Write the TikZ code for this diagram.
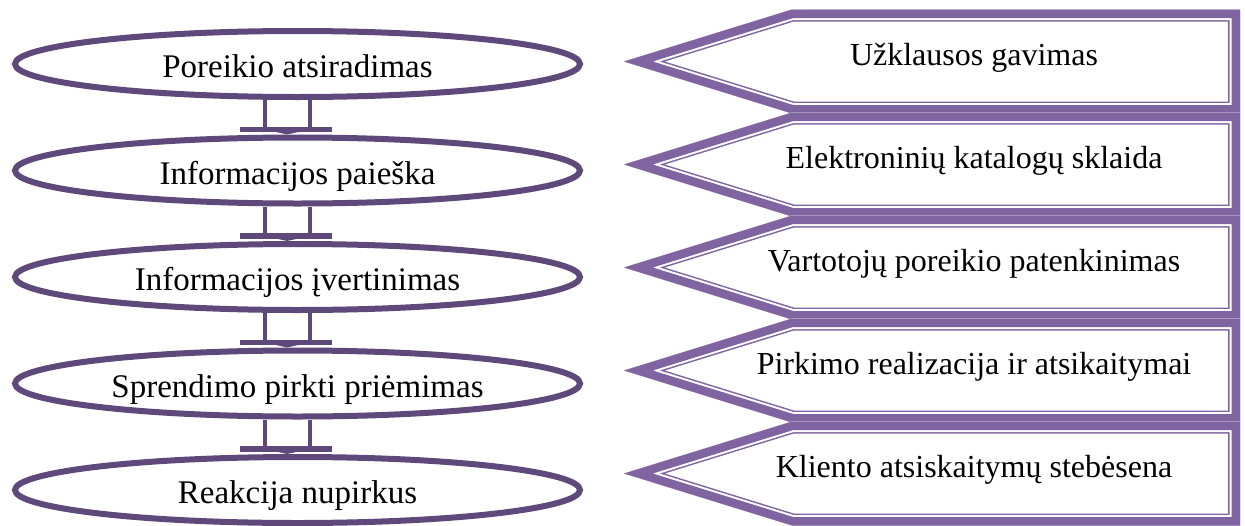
\documentclass[tikz,border=0pt]{standalone}
\usepackage{fontspec}
\setmainfont{Liberation Serif}
\usetikzlibrary{shapes.geometric,calc}
\definecolor{elcol}{HTML}{5F497A}
\definecolor{arcol}{HTML}{8064A2}
\begin{document}
\begin{tikzpicture}[x=1pt,y=-1pt,
  elnode/.style={ellipse, draw=elcol, line width=6pt, fill=white,
    minimum width=565pt, minimum height=66pt, inner sep=0pt},
  eltext/.style={inner sep=0pt, anchor=base, font=\fontsize{33}{38}\selectfont},
  artext/.style={inner sep=0pt, anchor=base, font=\fontsize{32}{37}\selectfont},
  conn/.style={draw=elcol, line width=4.5pt},
  bar/.style={draw=elcol, line width=5.5pt}]
\useasboundingbox (0,0) rectangle (1245,525);
\fill[white] (0,0) rectangle (1245,525);

% right-hand arrow shapes
\foreach \c/\n/\t in {61.5/1/{Užklausos gavimas},
                      164.5/2/{Elektroninių katalogų sklaida},
                      267.5/3/{Vartotojų poreikio patenkinimas},
                      370.5/4/{Pirkimo realizacija ir atsikaitymai},
                      473.5/5/{Kliento atsiskaitymų stebėsena}}{
  \begin{scope}
    \clip (624,\c) -- (792,\c-52) -- (1240,\c-52) -- (1240,\c+52) -- (792,\c+52) -- cycle;
    \fill[white] (624,\c) -- (792,\c-52) -- (1240,\c-52) -- (1240,\c+52) -- (792,\c+52) -- cycle;
    \draw[arcol, line width=24pt] (624,\c) -- (792,\c-52) -- (1240,\c-52) -- (1240,\c+52) -- (792,\c+52) -- cycle;
    \draw[white, line width=21pt] (624,\c) -- (792,\c-52) -- (1240,\c-52) -- (1240,\c+52) -- (792,\c+52) -- cycle;
    \draw[arcol, line width=17pt] (624,\c) -- (792,\c-52) -- (1240,\c-52) -- (1240,\c+52) -- (792,\c+52) -- cycle;
  \end{scope}
  \node[artext] (a\n) at (974,\c+4) {\t};
}

% left-hand ellipses
\node[elnode] (e1) at (297.5,64)    {};
\node[elnode] (e2) at (297.5,170.5) {};
\node[elnode] (e3) at (297.5,277)   {};
\node[elnode] (e4) at (297.5,383.5) {};
\node[elnode] (e5) at (297.5,490)   {};
\node[eltext] (t1) at ($(e1.center)+(0,13.5)$) {Poreikio atsiradimas};
\node[eltext] (t2) at ($(e2.center)+(0,13.5)$) {Informacijos paieška};
\node[eltext] (t3) at ($(e3.center)+(0,13.5)$) {Informacijos įvertinimas};
\node[eltext] (t4) at ($(e4.center)+(0,13.5)$) {Sprendimo pirkti priėmimas};
\node[eltext] (t5) at ($(e5.center)+(0,13.5)$) {Reakcija nupirkus};

% connectors between ellipses
\foreach \a/\b in {e1/e2,e2/e3,e3/e4,e4/e5}{
  \draw[conn] ($(\a.south)+(-32.5,0)$) -- ($(\b.north)+(-32.5,-5)$);
  \draw[conn] ($(\a.south)+(12.5,0)$) -- ($(\b.north)+(12.5,-5)$);
  \draw[bar] ($(\b.north)+(-57.5,-5)$) -- ($(\b.north)+(34.5,-5)$);
  \fill[elcol] ($(\b.north)+(-32.5,-5)$) -- ($(\b.north)+(12.5,-5)$) -- ($(\b.north)+(-10.5,0)$) -- cycle;
}
\end{tikzpicture}
\end{document}
